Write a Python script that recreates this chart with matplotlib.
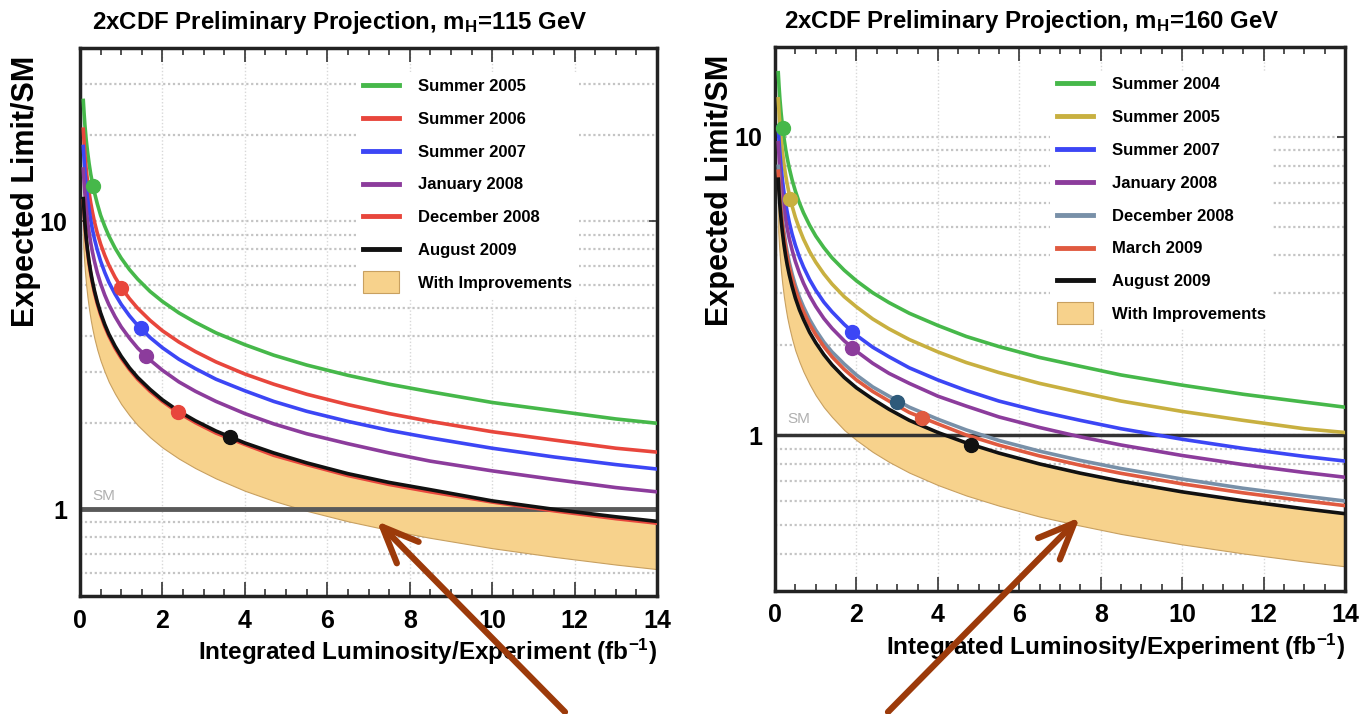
import numpy as np
import matplotlib
matplotlib.use("Agg")
import matplotlib.pyplot as plt
from matplotlib.lines import Line2D
from matplotlib.patches import Patch, Rectangle
from matplotlib.legend_handler import HandlerPatch
from matplotlib.ticker import LogLocator, FixedLocator, MultipleLocator, NullFormatter, FuncFormatter

# --------------------------------------------------------
# DATA
# --------------------------------------------------------
lumi = [0.08, 0.1, 0.12, 0.15, 0.18, 0.22, 0.26, 0.3, 0.35, 0.42, 0.5, 0.6, 0.7, 0.85, 1,
        1.2, 1.4, 1.7, 2, 2.4, 2.8, 3.3, 4, 4.7, 5.5, 6.5, 7.5, 8.5, 10, 11.5, 13, 14]

# m_H = 115 GeV
l_summer05 = [26.3, 23.6, 21.5, 19.2, 17.6, 15.9, 14.6, 13.6, 12.6, 11.5, 10.5, 9.62, 8.90, 8.08, 7.45,
              6.80, 6.30, 5.71, 5.27, 4.81, 4.46, 4.10, 3.73, 3.43, 3.17, 2.92, 2.72, 2.56, 2.35, 2.20, 2.06, 1.99]
l_summer06 = [20.9, 18.7, 17.0, 15.2, 13.9, 12.6, 11.6, 10.8, 9.97, 9.10, 8.34, 7.62, 7.05, 6.40, 5.90,
              5.39, 4.99, 4.53, 4.17, 3.81, 3.53, 3.25, 2.95, 2.72, 2.51, 2.31, 2.15, 2.02, 1.86, 1.74, 1.63, 1.58]
l_summer07 = [18.2, 16.3, 14.9, 13.3, 12.1, 11.0, 10.1, 9.40, 8.70, 7.95, 7.28, 6.65, 6.15, 5.59, 5.15,
              4.70, 4.35, 3.95, 3.64, 3.32, 3.08, 2.83, 2.58, 2.37, 2.19, 2.02, 1.88, 1.77, 1.63, 1.52, 1.43, 1.38]
l_jan08 = [15.2, 13.6, 12.4, 11.1, 10.1, 9.17, 8.43, 7.85, 7.27, 6.63, 6.08, 5.55, 5.14, 4.67, 4.30,
           3.93, 3.63, 3.30, 3.04, 2.77, 2.57, 2.37, 2.15, 1.98, 1.83, 1.69, 1.57, 1.47, 1.36, 1.27, 1.19, 1.15]
l_dec08 = [11.8, 10.6, 9.67, 8.65, 7.90, 7.14, 6.57, 6.12, 5.66, 5.17, 4.74, 4.32, 4.00, 3.63, 3.35,
           3.06, 2.83, 2.57, 2.37, 2.16, 2.00, 1.84, 1.68, 1.54, 1.43, 1.31, 1.22, 1.15, 1.06, 0.988, 0.928, 0.895]
l_aug09 = [12.0, 10.8, 9.82, 8.78, 8.01, 7.25, 6.67, 6.21, 5.75, 5.25, 4.81, 4.39, 4.06, 3.69, 3.40,
           3.10, 2.87, 2.61, 2.40, 2.19, 2.03, 1.87, 1.70, 1.57, 1.45, 1.33, 1.24, 1.17, 1.07, 1.00, 0.942, 0.908]
l_improved = [8.20, 7.34, 6.70, 5.99, 5.47, 4.95, 4.55, 4.24, 3.92, 3.58, 3.28, 3.00, 2.77, 2.52, 2.32,
              2.12, 1.96, 1.78, 1.64, 1.50, 1.39, 1.28, 1.16, 1.07, 0.988, 0.909, 0.847, 0.796, 0.733, 0.684, 0.643, 0.620]

l_labels = ["Summer 2005", "Summer 2006", "Summer 2007", "January 2008", "December 2008", "August 2009"]
l_dot_x = [0.32, 1.0, 1.48, 1.6, 2.37, 3.63]
l_dot_y = [13.3, 5.85, 4.25, 3.4, 2.17, 1.79]

# m_H = 160 GeV
r_summer04 = [16.4, 14.7, 13.4, 12.0, 11.0, 9.91, 9.12, 8.49, 7.86, 7.17, 6.58, 6.00, 5.56, 5.05, 4.65,
              4.25, 3.93, 3.57, 3.29, 3.00, 2.78, 2.56, 2.33, 2.14, 1.98, 1.82, 1.70, 1.59, 1.47, 1.37, 1.29, 1.24]
r_summer05 = [13.4, 12.0, 11.0, 9.81, 8.96, 8.10, 7.45, 6.94, 6.42, 5.86, 5.37, 4.91, 4.54, 4.12, 3.80,
              3.47, 3.21, 2.91, 2.69, 2.45, 2.27, 2.09, 1.90, 1.75, 1.62, 1.49, 1.39, 1.30, 1.20, 1.12, 1.05, 1.02]
r_summer07 = [10.8, 9.68, 8.83, 7.90, 7.21, 6.52, 6.00, 5.59, 5.17, 4.72, 4.33, 3.95, 3.66, 3.32, 3.06,
              2.79, 2.59, 2.35, 2.16, 1.97, 1.83, 1.68, 1.53, 1.41, 1.30, 1.20, 1.12, 1.05, 0.968, 0.902, 0.848, 0.818]
r_jan08 = [9.55, 8.54, 7.79, 6.97, 6.36, 5.76, 5.29, 4.93, 4.56, 4.17, 3.82, 3.49, 3.23, 2.93, 2.70,
           2.46, 2.28, 2.07, 1.91, 1.74, 1.61, 1.49, 1.35, 1.25, 1.15, 1.06, 0.986, 0.926, 0.854, 0.796, 0.749, 0.722]
r_dec08 = [7.96, 7.12, 6.50, 5.81, 5.30, 4.80, 4.41, 4.11, 3.80, 3.47, 3.18, 2.90, 2.69, 2.44, 2.25,
           2.05, 1.90, 1.73, 1.59, 1.45, 1.35, 1.24, 1.13, 1.04, 0.959, 0.883, 0.822, 0.772, 0.712, 0.663, 0.624, 0.601]
r_mar09 = [7.67, 6.86, 6.26, 5.60, 5.11, 4.63, 4.26, 3.96, 3.67, 3.35, 3.07, 2.80, 2.59, 2.35, 2.17,
           1.98, 1.83, 1.66, 1.53, 1.40, 1.30, 1.19, 1.09, 1.00, 0.925, 0.851, 0.792, 0.744, 0.686, 0.640, 0.602, 0.580]
r_aug09 = [7.21, 6.45, 5.89, 5.27, 4.81, 4.35, 4.00, 3.72, 3.45, 3.15, 2.88, 2.63, 2.44, 2.21, 2.04,
           1.86, 1.72, 1.56, 1.44, 1.32, 1.22, 1.12, 1.02, 0.941, 0.870, 0.800, 0.745, 0.700, 0.645, 0.602, 0.566, 0.545]
r_improved = [4.81, 4.30, 3.93, 3.51, 3.21, 2.90, 2.67, 2.48, 2.30, 2.10, 1.92, 1.76, 1.63, 1.48, 1.36,
              1.24, 1.15, 1.04, 0.962, 0.878, 0.813, 0.748, 0.680, 0.627, 0.580, 0.533, 0.497, 0.466, 0.430, 0.401, 0.377, 0.363]

r_labels = ["Summer 2004", "Summer 2005", "Summer 2007", "January 2008", "December 2008", "March 2009", "August 2009"]
r_dot_x = [0.19, 0.37, 1.9, 1.9, 3.0, 3.61, 4.82]
r_dot_y = [10.7, 6.2, 2.22, 1.96, 1.29, 1.14, 0.927]

# --------------------------------------------------------
# STYLE
# --------------------------------------------------------
plt.rcParams["font.family"] = ["Liberation Sans", "DejaVu Sans"]
plt.rcParams["font.weight"] = "bold"
plt.rcParams["axes.labelweight"] = "bold"
plt.rcParams["mathtext.default"] = "regular"

GREEN = "#46b84a"
RED = "#e8463c"
BLUE = "#3c46f5"
PURPLE = "#8c3c9c"
GOLD = "#c8b040"
SLATE = "#7890a8"
ORANGE_RED = "#e05a40"
BLACK = "#111111"
BAND = "#f7d28c"
BAND_EDGE = "#c8a060"
ARROW = "#9c3a0a"

W, H = 1369, 714


def tall_patch(legend, orig_handle, xdescent, ydescent, width, height, fontsize):
    return Rectangle((-xdescent, -ydescent - 0.45 * height), width, 1.9 * height)


def style_axes(ax, ylim):
    ax.set_yscale("log")
    ax.set_xlim(0, 14)
    ax.set_ylim(*ylim)
    ax.xaxis.set_major_locator(MultipleLocator(2))
    ax.xaxis.set_minor_locator(MultipleLocator(0.5))
    ax.yaxis.set_major_locator(FixedLocator([1, 10]))
    ax.yaxis.set_major_formatter(FuncFormatter(lambda v, p: f"{v:g}"))
    ax.yaxis.set_minor_locator(LogLocator(base=10, subs=np.arange(2, 10)))
    ax.yaxis.set_minor_formatter(NullFormatter())
    ax.tick_params(which="both", direction="in", top=True, right=True, width=1.2, color="#333333")
    ax.tick_params(which="major", length=10, labelsize=18, pad=9)
    ax.tick_params(which="minor", length=5)
    ax.tick_params(axis="y", which="major", length=6)
    ax.tick_params(axis="y", which="minor", length=0)
    for s in ax.spines.values():
        s.set_linewidth(2.5)
        s.set_color("#222222")
    for y in [0.2, 0.3, 0.4, 0.5, 0.6, 0.7, 0.8, 0.9, 1, 2, 3, 4, 5, 6, 7, 8, 9, 10, 20, 30, 40]:
        if ylim[0] < y < ylim[1]:
            ax.axhline(y, color="#c4c4c4", lw=1.6, ls=(0, (1, 1.2)), zorder=0)
    for x in [2, 4, 6, 8, 10, 12]:
        ax.axvline(x, color="#d8d8d8", lw=1.0, ls=(0, (1, 1.5)), zorder=0)
    ax.set_xlabel("Integrated Luminosity/Experiment (fb$^{-1}$)", fontsize=17.5, loc="right", labelpad=3)


def panel(ax, curves, colors, labels, dots_x, dots_y, dot_colors, improved, title, ylim,
          sm_y, sm_color, sm_lw, leg_anchor, ylab_x, ylab_y):
    style_axes(ax, ylim)
    top = curves[-1]
    ax.fill_between(lumi, improved, top, facecolor=BAND, edgecolor=BAND_EDGE, lw=0.8, zorder=1)
    ax.axhline(1, color=sm_color, lw=sm_lw, zorder=2)
    ax.text(0.3, sm_y, "SM", fontsize=11, color="#b0b0b0", fontweight="normal", zorder=2)
    for vals, c in zip(curves, colors):
        ax.plot(lumi, vals, color=c, lw=2.6, zorder=3)
    for x, y, c in zip(dots_x, dots_y, dot_colors):
        ax.plot(x, y, "o", color=c, ms=10, zorder=4)

    handles = [Line2D([], [], color=c, lw=3.5) for c in colors]
    handles.append(Patch(facecolor=BAND, edgecolor=BAND_EDGE, lw=0.8))
    leg = ax.legend(handles, labels + ["With Improvements"], loc="upper left",
                    bbox_to_anchor=leg_anchor, fontsize=12, frameon=True,
                    facecolor="white", edgecolor="none", framealpha=1,
                    handlelength=2.15, handletextpad=1.14, labelspacing=1.07,
                    borderpad=0.4, handler_map={Patch: HandlerPatch(patch_func=tall_patch)})
    leg.set_zorder(5)
    ax.text(0.45, 1.047, title, transform=ax.transAxes, ha="center", va="center", fontsize=17.3)
    ax.text(ylab_x, ylab_y, "Expected Limit/SM", transform=ax.transAxes, rotation=90,
            ha="center", va="center", fontsize=22)


# --------------------------------------------------------
# FIGURE
# --------------------------------------------------------
fig = plt.figure(figsize=(W / 100, H / 100), dpi=100)
ax1 = fig.add_axes([80 / W, 1 - 596 / H, 577 / W, 548 / H])
ax2 = fig.add_axes([775 / W, 1 - 591 / H, 570 / W, 544 / H])

panel(ax1,
      [l_summer05, l_summer06, l_summer07, l_jan08, l_dec08, l_aug09],
      [GREEN, RED, BLUE, PURPLE, RED, BLACK],
      l_labels, l_dot_x, l_dot_y,
      [GREEN, RED, BLUE, PURPLE, RED, BLACK],
      l_improved, "2xCDF Preliminary Projection, m$_H$=115 GeV",
      (0.5, 40), 1.08, "#5a5a5a", 3.5, (0.4645, 0.971), -0.0936, 0.739)

panel(ax2,
      [r_summer04, r_summer05, r_summer07, r_jan08, r_dec08, r_mar09, r_aug09],
      [GREEN, GOLD, BLUE, PURPLE, SLATE, ORANGE_RED, BLACK],
      r_labels, r_dot_x, r_dot_y,
      [GREEN, GOLD, BLUE, PURPLE, "#2e5a7a", ORANGE_RED, BLACK],
      r_improved, "2xCDF Preliminary Projection, m$_H$=160 GeV",
      (0.3, 20), 1.1, "#333333", 2.5, (0.468, 0.972), -0.096, 0.737)

# arrows pointing at the bands
ax1.annotate("", xy=(7.2, 0.91), xytext=(565, 2), textcoords="figure pixels",
             arrowprops=dict(arrowstyle="->,head_length=1.3,head_width=0.55", lw=4.5,
                             color=ARROW, mutation_scale=20, shrinkA=0, shrinkB=0),
             annotation_clip=False)
ax2.annotate("", xy=(7.49, 0.53), xytext=(888, 2), textcoords="figure pixels",
             arrowprops=dict(arrowstyle="->,head_length=1.3,head_width=0.55", lw=4.5,
                             color=ARROW, mutation_scale=20, shrinkA=0, shrinkB=0),
             annotation_clip=False)

fig.savefig("out.png", dpi=100)
